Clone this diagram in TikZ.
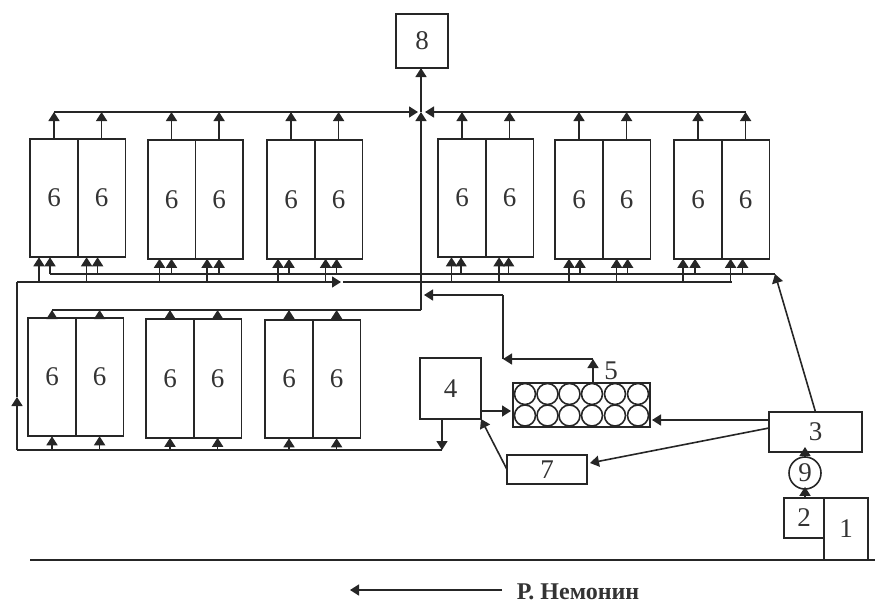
\documentclass[tikz,border=0pt]{standalone}
\usepackage{fontspec}
\setmainfont{Liberation Serif}
\usetikzlibrary{arrows.meta, positioning}

\tikzset{
    cell/.style={draw, rectangle, inner sep=0pt, outer sep=0pt, minimum width=47.6pt, minimum height=118.5pt},
    unit/.style={draw, rectangle, inner sep=0pt, outer sep=0pt}
}

\begin{document}
\begin{tikzpicture}[x=1pt,y=-1pt,>={Triangle[length=9pt,width=11pt]},line width=1.6pt,
                    draw=black!85,text=black!80,font=\fontsize{27}{30}\selectfont]
    \useasboundingbox (0,0) rectangle (875,603);

    % Appareils
    \node[unit, minimum width=52pt, minimum height=54pt] (8) at (422,41) {8};
    \node[unit, minimum width=61pt, minimum height=61pt] (4) at (450.5,388.5) {4};
    \node[unit, minimum width=137pt, minimum height=44pt] (5) at (581.5,405) {};
    \node[unit, minimum width=93pt, minimum height=40pt] (3) at (815.5,432) {3};
    \node[unit, minimum width=80pt, minimum height=29pt] (7) at (547,469.5) {7};
    \node[draw, circle, inner sep=0pt, minimum size=32pt] (9) at (805,473) {9};
    \node[unit, minimum width=40pt, minimum height=40pt] (2) at (804,518) {2};
    \node[unit, minimum width=44pt, minimum height=62pt] (1) at (846,529) {1};
    \node[anchor=east] (5a) at (622,371) {5};

    % Cercles du bloc 5
    \foreach \i/\x in {1/525,2/547.5,3/569.5,4/592,5/615,6/638}
        \foreach \j/\y in {1/394,2/415.5}
            \node[draw, circle, inner sep=0pt, minimum size=21pt] (c\i\j) at (\x,\y) {};

    % Points des collecteurs
    \coordinate (jn) at (421,112);
    \coordinate (jb) at (421,310);
    \coordinate (ba) at (50,274);
    \coordinate (bb) at (775,274);
    \coordinate (fa) at (17,282);
    \coordinate (fb) at (341,282);
    \coordinate (fc) at (343,282);
    \coordinate (fd) at (732,282);
    \coordinate (sw) at (17,450);
    \coordinate (sm) at (17,397);
    \coordinate (se) at (442,450);
    \coordinate (k1) at (593,359);
    \coordinate (k2) at (503,359);
    \coordinate (k3) at (503,295);
    \coordinate (k4) at (424,295);
    \coordinate (rl) at (30,560);
    \coordinate (rr) at (875,560);
    \coordinate (rv) at (350,590);

    % Rangee du haut
    \foreach \g/\x/\y/\a/\b in {1/54/198/-15/-4, 2/171.5/199.5/-12/0, 3/291/199.5/-13/-2,
                                4/462/198/-10.5/-1, 5/579/199.5/-10/1, 6/698/199.5/-15/-3} {
        \node[cell] (t\g-l) at (\x,\y) {6};
        \node[cell, right=0pt of t\g-l] (t\g-r) {6};
        \foreach \s in {l,r} {
            \draw[->] (t\g-\s.north) -- (t\g-\s.north |- jn);
            \draw[->] ([xshift=\a pt]t\g-\s.south |- fa) -- ([xshift=\a pt]t\g-\s.south);
            \draw[->] ([xshift=\b pt]t\g-\s.south |- ba) -- ([xshift=\b pt]t\g-\s.south);
        }
    }

    % Rangee du bas
    \foreach \g/\x/\y in {1/52/377, 2/170/378.5, 3/289/379} {
        \node[cell] (u\g-l) at (\x,\y) {6};
        \node[cell, right=0pt of u\g-l] (u\g-r) {6};
        \foreach \s in {l,r} {
            \draw[->] (u\g-\s.north) -- (u\g-\s.north |- jb);
            \draw[->] (u\g-\s.south |- sw) -- (u\g-\s.south);
        }
    }

    % Collecteurs
    \draw[->, shorten >=3pt] (t1-l.north |- jn) -- (jn);
    \draw[->, shorten >=4pt] (t6-r.north |- jn) -- (jn);
    \draw[->] (jb) -- (jn);
    \draw[->] (jn) -- (jn |- 8.south);
    \draw (jb) -- (u1-l.north |- jb);
    \draw[line width=1.1pt] (ba) -- (bb);
    \draw[->] (sw) -- (sm);
    \draw (sm) -- (fa);
    \draw[->] (fa) -- (fb);
    \draw (fc) -- (fd);
    \draw (se) -- (sw);

    % Liaisons entre appareils
    \draw[->] ([xshift=-8.5pt]4.south) -- (se);
    \draw[->] ([yshift=-22.5pt]4.east) -- ([xshift=-2pt,yshift=-6pt]5.west);
    \draw[->] (7.west) -- (4.south east);
    \draw[->] ([xshift=11.5pt]5.north) -- (k1);
    \draw[->] (k1) -- (k2);
    \draw (k2) -- (k3);
    \draw[->] (k3) -- (k4);
    \draw[->] ([yshift=12pt]3.west) -- ([xshift=2pt,yshift=-15pt]5.east);
    \draw[->] ([yshift=4pt]3.west) -- ([xshift=3pt,yshift=6.5pt]7.east);
    \draw[->] (3.north) -- (bb);
    \draw[->] (9.north) -- ([yshift=5pt]9.north |- 3.south);
    \draw[->] (9.south |- 2.north) -- ([yshift=3pt]9.south);

    % Riviere
    \draw (rl) -- (rr);
    \node[font=\fontsize{24}{26}\selectfont\bfseries, anchor=west, inner sep=0pt] (name) at (516,591.5) {Р. Немонин};
    \draw[->, shorten <=14pt] (name.west |- rv) -- (rv);
\end{tikzpicture}
\end{document}
